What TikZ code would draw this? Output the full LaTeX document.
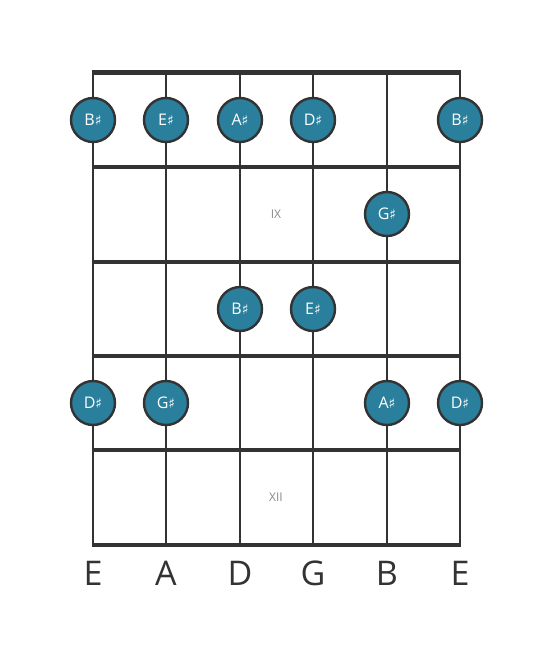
\documentclass[tikz,border=0pt]{standalone}
\usepackage{fontspec}
\setmainfont{Open Sans}
\newfontfamily\symfont{DejaVu Sans}
\usetikzlibrary{positioning}
\definecolor{fbdark}{RGB}{51,51,51}
\definecolor{fbteal}{RGB}{42,127,156}
\definecolor{fbgray}{RGB}{136,136,136}
\tikzstyle{fret} = [line width=4pt,color=fbdark]
\tikzstyle{nut} = [line width=5pt,color=fbdark]
\tikzstyle{gstring} = [line width=2.6pt,color=fbdark]
\tikzstyle{note} = [circle, minimum size=44pt, inner sep=0pt, draw=fbdark, line width=2.4pt, fill=fbteal, text=white, font=\fontsize{16}{16}\selectfont]
\tikzstyle{strname} = [font=\fontsize{34}{34}\selectfont, text=fbdark, anchor=base]
\tikzstyle{fretno} = [font=\fontsize{12}{12}\selectfont, text=fbgray]
\newcommand{\shp}{{\symfont\fontsize{14}{14}\selectfont ♯}}

\begin{document}
\begin{tikzpicture}[x=1pt,y=-1pt]
\useasboundingbox (0,0) rectangle (553,656);
% strings
\foreach \s/\x in {1/93,2/166,3/240,4/313,5/387,6/460} {
  \coordinate (top\s) at (\x,72);
  \coordinate (bot\s) at (\x,545);
  \draw[gstring] (top\s) -- (bot\s);
}
% frets
\foreach \f/\y in {1/167,2/262,3/356,4/450,5/545} {
  \coordinate (fl\f) at (93,\y);
  \coordinate (fr\f) at (460,\y);
  \draw[fret] ([xshift=-1.3pt]fl\f) -- ([xshift=1.3pt]fr\f);
}
\coordinate (nl) at (93,72);
\coordinate (nr) at (460,72);
\draw[nut] ([xshift=-1.3pt]nl) -- ([xshift=1.3pt]nr);
% fret numbers
\node[fretno] (ix) at (276,214) {IX};
\node[fretno] (xii) at (276,497) {XII};
% notes
\node[note] (n1) at (93,120) {B\shp};
\node[note] (n2) at (166,120) {E\shp};
\node[note] (n3) at (240,120) {A\shp};
\node[note] (n4) at (313,120) {D\shp};
\node[note] (n5) at (460,120) {B\shp};
\node[note] (n6) at (387,214) {G\shp};
\node[note] (n7) at (240,309) {B\shp};
\node[note] (n8) at (313,309) {E\shp};
\node[note] (n9) at (93,403) {D\shp};
\node[note] (n10) at (166,403) {G\shp};
\node[note] (n11) at (387,403) {A\shp};
\node[note] (n12) at (460,403) {D\shp};
% string names
\foreach \s/\n in {1/E,2/A,3/D,4/G,5/B,6/E} {
  \node[strname] (name\s) at ([yshift=-40pt]bot\s) {\n};
}
\end{tikzpicture}
\end{document}
